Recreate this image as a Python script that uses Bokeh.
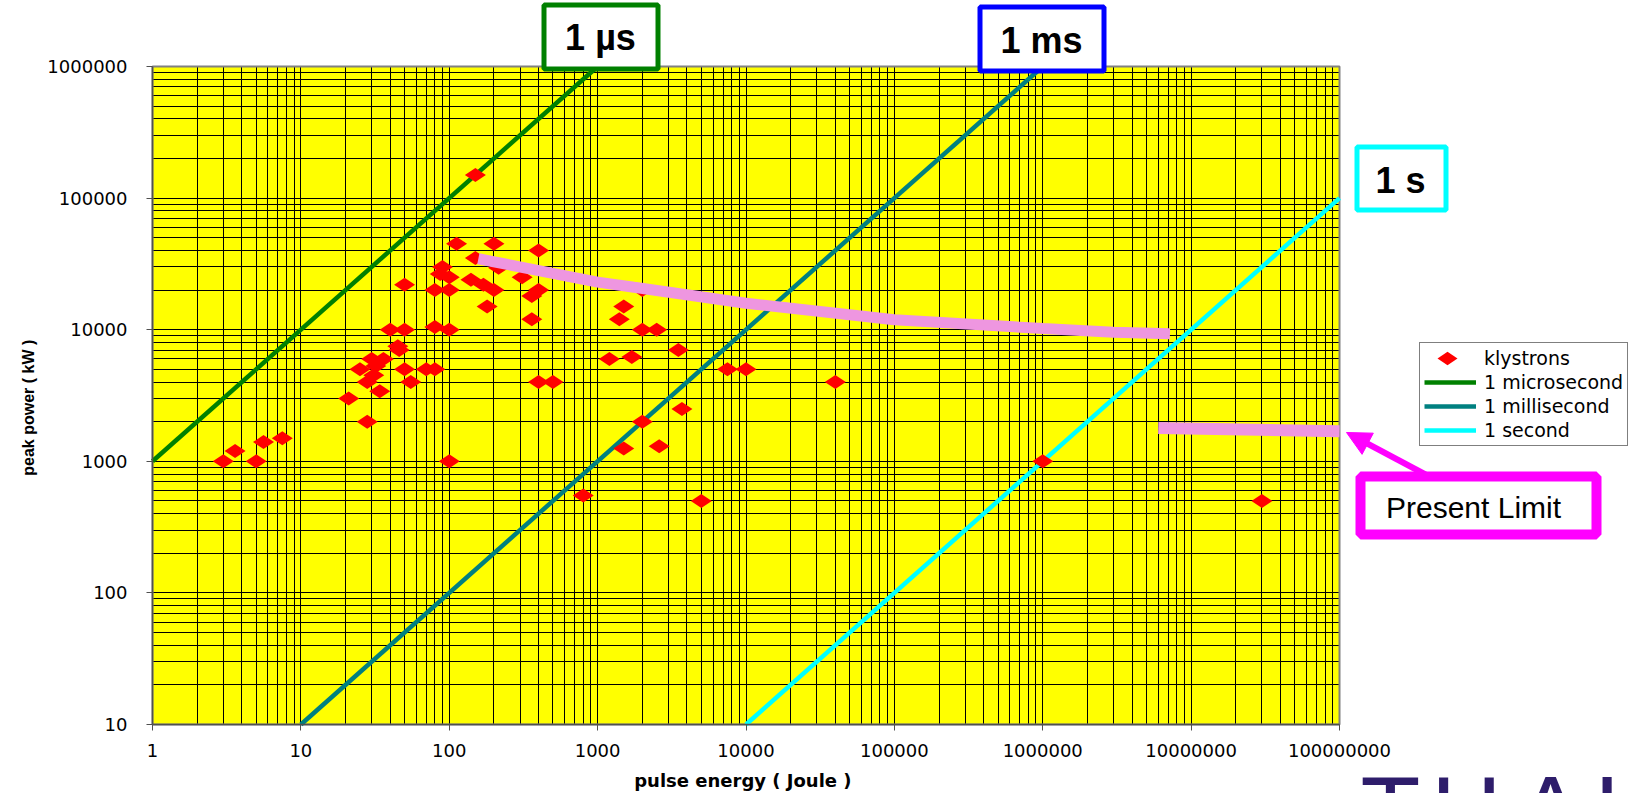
import numpy as np
from bokeh.plotting import figure
from bokeh.models import (FixedTicker, Legend, LegendItem, Label, BoxAnnotation,
                          Arrow, NormalHead, NumeralTickFormatter)
from bokeh.embed import file_html
from bokeh.resources import INLINE

# ---------------- data ----------------
klystron_energy_J = [3, 3.6, 5, 5.6, 7.5, 21, 28, 34, 25, 28, 31, 32, 30, 36, 45, 46,
                     40, 50, 50, 55, 70, 80, 80, 100, 100, 50, 80, 100, 90, 87, 100,
                     112, 200, 150, 150, 140, 170, 200, 180, 215, 310, 400, 400, 360,
                     360, 400, 500, 800, 1200, 1400, 1500, 2000, 2000, 2500, 1700,
                     3500, 3700, 2000, 1500, 2600, 5000, 7500, 10000, 40000, 1e6, 3e7]
klystron_power_kW = [1000, 1200, 1000, 1400, 1500, 3000, 2000, 3400, 5000, 4000, 4500,
                     5300, 6000, 6000, 7500, 7000, 10000, 10000, 5000, 4000, 5000, 5000,
                     10500, 10000, 1000, 22000, 20000, 20000, 30000, 26500, 25000,
                     45000, 45000, 150000, 35000, 24000, 22000, 20000, 15000, 29500,
                     25000, 40000, 20000, 18000, 12000, 4000, 4000, 550, 6000, 12000,
                     15000, 20000, 10000, 10000, 6200, 7000, 2500, 2000, 1250, 1300,
                     500, 5000, 5000, 4000, 1000, 500]

microsecond_energy = [1, 1000]
microsecond_power = [1000, 1e6]
millisecond_energy = [10, 1e6]
millisecond_power = [10, 1e6]
second_energy = [1e4, 1e8]
second_power = [10, 1e5]

limit_energy = [157, 1000, 1760, 10000, 100000, 1e6, 3e6, 7.2e6]
limit_power = [34600, 23000, 21000, 15900, 11900, 10200, 9570, 9300]
limit2_energy = [6e6, 1e8]
limit2_power = [1790, 1690]

x_ticks = [1, 10, 100, 1000, 10000, 100000, 1000000, 10000000, 100000000]
x_tick_labels = ["1", "10", "100", "1000", "10000", "100000", "1000000",
                 "10000000", "100000000"]
y_ticks = [10, 100, 1000, 10000, 100000, 1000000]
y_tick_labels = ["10", "100", "1000", "10000", "100000", "1000000"]

legend_labels = ["klystrons", "1 microsecond", "1 millisecond", "1 second"]

# ---------------- layout geometry (canvas pixels) ----------------
W, H = 1643, 793
PL, PR, PT, PB = 152, 1339, 66, 724          # edges of the plotting area
x_lo, x_hi = x_ticks[0], x_ticks[-1]
y_lo, y_hi = y_ticks[0], y_ticks[-1]
dx = (np.log10(x_hi) - np.log10(x_lo)) / (PR - PL)
dy = (np.log10(y_hi) - np.log10(y_lo)) / (PB - PT)
x_range = (10 ** (np.log10(x_lo) - PL * dx), 10 ** (np.log10(x_hi) + (W - PR) * dx))
y_range = (10 ** (np.log10(y_lo) - (H - PB) * dy), 10 ** (np.log10(y_hi) + PT * dy))


def sy(y):
    """canvas y (from top) -> screen y (from bottom)"""
    return H - y


def px_to_data(x, y):
    """canvas pixel -> data coordinates (for legend decoration only)"""
    return (10 ** (np.log10(x_range[0]) + x * dx),
            10 ** (np.log10(y_range[0]) + (H - y) * dy))


p = figure(width=W, height=H, x_axis_type="log", y_axis_type="log",
           x_range=x_range, y_range=y_range,
           output_backend="svg", toolbar_location=None,
           min_border_left=0, min_border_right=0, min_border_top=0, min_border_bottom=0,
           background_fill_color="white", border_fill_color="white")
p.outline_line_color = None

# plotting area background
p.quad(left=[x_lo], right=[x_hi], bottom=[y_lo], top=[y_hi],
       fill_color="#FFFF00", line_color=None, level="image")

x_minor = [m * 10 ** k for k in range(0, 8) for m in range(2, 10)]
y_minor = [m * 10 ** k for k in range(1, 6) for m in range(2, 10)]
p.xaxis.ticker = FixedTicker(ticks=x_ticks, minor_ticks=x_minor)
p.yaxis.ticker = FixedTicker(ticks=y_ticks, minor_ticks=y_minor)
p.xaxis.formatter = NumeralTickFormatter(format="0")
p.yaxis.formatter = NumeralTickFormatter(format="0")
p.xaxis.major_label_overrides = dict(zip(x_ticks, x_tick_labels))
p.yaxis.major_label_overrides = dict(zip(y_ticks, y_tick_labels))
p.xaxis.fixed_location = y_lo
p.yaxis.fixed_location = x_lo
p.xaxis.bounds = (x_lo, x_hi)
p.yaxis.bounds = (y_lo, y_hi)

for ax in (p.xaxis, p.yaxis):
    ax.axis_line_color = "#505050"
    ax.axis_line_width = 1.5
    ax.major_tick_line_color = "#505050"
    ax.major_tick_out = 6
    ax.major_tick_in = 0
    ax.minor_tick_out = 0
    ax.minor_tick_in = 0
    ax.major_label_text_font = "DejaVu Sans"
    ax.major_label_text_font_size = "18px"
    ax.major_label_text_color = "black"
p.xaxis.major_label_standoff = 13
p.yaxis.major_label_standoff = 19

p.xgrid.bounds = (x_lo, x_hi)
p.ygrid.bounds = (y_lo, y_hi)
for g, cb in ((p.xgrid, (y_lo, y_hi)), (p.ygrid, (x_lo, x_hi))):
    g.grid_line_color = "black"
    g.grid_line_width = 1
    g.minor_grid_line_color = "black"
    g.minor_grid_line_width = 1
    if "cross_bounds" in g[0].properties():
        g.cross_bounds = cb

# frame outline of the plotting area
p.quad(left=[x_lo], right=[x_hi], bottom=[y_lo], top=[y_hi],
       fill_alpha=0, line_color="#808080", line_width=2)

# ---------------- glyphs ----------------
r_us = p.line(microsecond_energy, microsecond_power, line_color="#008000", line_width=4.5)
r_ms = p.line(millisecond_energy, millisecond_power, line_color="#008080", line_width=4.5)
r_s = p.line(second_energy, second_power, line_color="#00FFFF", line_width=4.5)
r_k = p.scatter(klystron_energy_J, klystron_power_kW, marker="diamond", size=21,
                angle=np.pi / 2, fill_color="#FF0000", line_color=None)
p.line(limit_energy, limit_power, line_color="#EE96E0", line_width=11, line_cap="butt")
p.line(limit2_energy, limit2_power, line_color="#EE96E0", line_width=12, line_cap="butt")

# ---------------- legend ----------------
LEG_L, LEG_B = 1419, 446
# wide diamond sample under the (transparent) legend's klystron entry
lgx, lgy = px_to_data(LEG_L + 28, 358)
p.scatter([lgx], [lgy], marker="diamond", size=20, angle=np.pi / 2,
          fill_color="#FF0000", line_color=None)

legend = Legend(items=[LegendItem(label=legend_labels[0], renderers=[r_k]),
                       LegendItem(label=legend_labels[1], renderers=[r_us]),
                       LegendItem(label=legend_labels[2], renderers=[r_ms]),
                       LegendItem(label=legend_labels[3], renderers=[r_s])],
                location=(LEG_L, sy(LEG_B)), orientation="vertical",
                padding=4, spacing=2, margin=0,
                label_height=22, glyph_height=22, glyph_width=52, label_standoff=8,
                label_text_font="DejaVu Sans", label_text_font_size="19px",
                label_text_color="black", label_text_baseline="middle",
                border_line_color="black", border_line_width=1,
                background_fill_color="white", background_fill_alpha=0.0)
p.add_layout(legend)


# ---------------- labels / boxes ----------------
def box(l, t, r, b, color, w):
    """outer edges in canvas px"""
    p.add_layout(BoxAnnotation(left=l + w / 2, right=r - w / 2,
                               top=sy(t + w / 2), bottom=sy(b - w / 2),
                               left_units="screen", right_units="screen",
                               top_units="screen", bottom_units="screen",
                               fill_color="white", fill_alpha=1.0,
                               line_color=color, line_width=w, line_alpha=1.0))


def label(x, y, text, size, bold=True, font="Liberation Sans", color="black",
          align="center", angle=0):
    """y = vertical centre of the capitals, canvas px from top"""
    p.add_layout(Label(x=x, y=sy(y), x_units="screen", y_units="screen", text=text,
                       text_font=font, text_font_size=size,
                       text_font_style="bold" if bold else "normal",
                       text_color=color, text_align=align, text_baseline="middle",
                       angle=angle))


box(541, 2, 660, 71, "#008000", 5)
label(600, 36.5, "1 µs", "36px")
box(977, 4, 1106, 73, "#0000FF", 5)
label(1041, 39.5, "1 ms", "36px")
box(1354, 144, 1448, 212, "#00FFFF", 5)
label(1400, 180, "1 s", "36px")

box(1355, 471, 1601, 539, "#FF00FF", 10)
label(1473, 506.5, "Present Limit", "30px", bold=False)

a0, a1 = (1425, 474), (1346, 432)
head_base = (a1[0] + (a0[0] - a1[0]) * 0.25, a1[1] + (a0[1] - a1[1]) * 0.25)
p.add_layout(Arrow(x_start=a0[0], y_start=sy(a0[1]), x_end=head_base[0], y_end=sy(head_base[1]),
                   start_units="screen", end_units="screen", start=None, end=None,
                   line_color="#FF00FF", line_width=6))
p.add_layout(Arrow(x_start=head_base[0], y_start=sy(head_base[1]), x_end=a1[0], y_end=sy(a1[1]),
                   start_units="screen", end_units="screen", start=None,
                   line_color="#FF00FF", line_width=6,
                   end=NormalHead(size=24, fill_color="#FF00FF", line_color="#FF00FF")))

label((PL + PR) / 2, 779.5, "pulse energy  ( Joule )", "18px", font="DejaVu Sans")
label(28, 405, "peak power  ( kW )", "16px", angle=np.pi / 2)

# partially visible logo at the bottom right
for lx, letter, al in [(1390, "T", "center"), (1466, "H", "center"),
                       (1550, "A", "center"), (1594, "L", "left")]:
    label(lx, 810, letter, "98px", bold=False, color="#2E1D6B", align=al)

open("out.html", "w").write(file_html(p, INLINE))
